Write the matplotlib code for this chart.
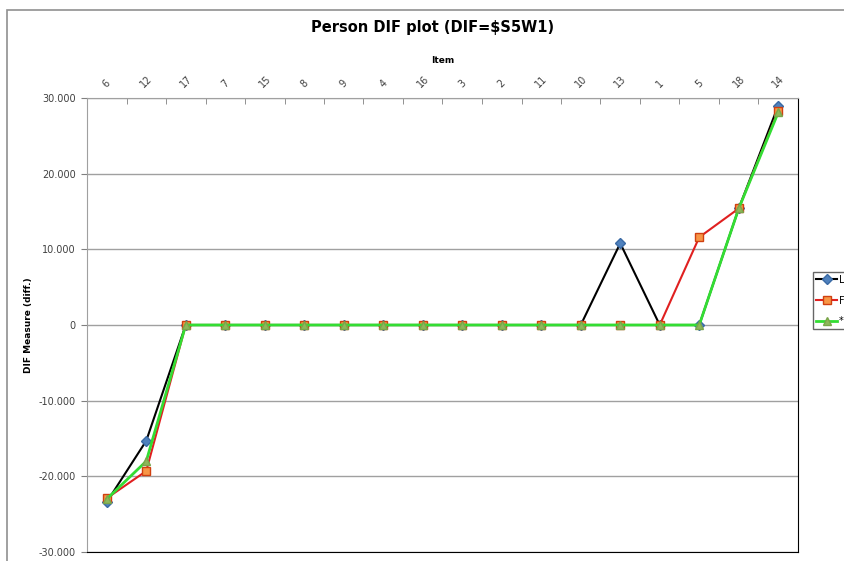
import numpy as np
import matplotlib.pyplot as plt
from matplotlib.ticker import FuncFormatter

items = ["6", "12", "17", "7", "15", "8", "9", "4", "16", "3", "2", "11",
         "10", "13", "1", "5", "18", "14"]
series_l = [-23.4, -15.3, 0, 0, 0, 0, 0, 0, 0, 0, 0, 0, 0, 10.8, 0, 0, 15.4, 29.0]
series_f = [-22.9, -19.3, 0, 0, 0, 0, 0, 0, 0, 0, 0, 0, 0, 0, 0, 11.6, 15.4, 28.3]
series_s = [-23.0, -18.0, 0, 0, 0, 0, 0, 0, 0, 0, 0, 0, 0, 0, 0, 0, 15.4, 28.1]
labels = ["L", "F", "*"]

fig = plt.figure(figsize=(8.45, 5.61), dpi=100)
ax = fig.add_axes([87 / 845, 1 - 552 / 561, (798 - 87) / 845, (552 - 98) / 561])

x = np.arange(len(items))
ax.plot(x, series_l, color="black", lw=1.5, marker="D", ms=5,
        mfc="#4F81BD", mec="#3A6AA5", label=labels[0], zorder=3)
ax.plot(x, series_f, color="#E02020", lw=1.5, marker="s", ms=6,
        mfc="#F79646", mec="#D04010", label=labels[1], zorder=4)
ax.plot(x, series_s, color="#33DD33", lw=2, marker="^", ms=6,
        mfc="#8DB85A", mec="#7AA54A", label=labels[2], zorder=5)

ax.set_xlim(-0.5, len(items) - 0.5)
ax.set_ylim(-30, 30)
ax.set_yticks(np.arange(-30, 31, 10))
ax.yaxis.set_major_formatter(FuncFormatter(lambda v, p: "0" if v == 0 else f"{v:.3f}"))
ax.tick_params(axis="y", labelsize=7, labelcolor="#404040", length=4, width=0.8,
               direction="out", pad=4, color="#808080")

ax.xaxis.tick_top()
ax.xaxis.set_label_position("top")
ax.set_xticks(x)
ax.set_xticklabels(items, rotation=45, ha="center", va="bottom", fontsize=7, color="#404040")
ax.set_xticks(np.arange(-0.5, len(items)), minor=True)
ax.tick_params(axis="x", which="major", length=0, pad=6)
ax.tick_params(axis="x", which="minor", length=4, color="#808080", direction="in", top=True, bottom=False)
ax.set_xlabel("Item", fontsize=6.5, fontweight="bold", labelpad=8)
ax.set_ylabel("DIF Measure (diff.)", fontsize=6.5, fontweight="bold", labelpad=4)

ax.grid(axis="y", color="#A0A0A0", lw=1)
ax.set_axisbelow(True)
ax.spines["left"].set_color("#A0A0A0")
ax.spines["top"].set_color("#A0A0A0")
ax.spines["right"].set_color("black")
ax.spines["bottom"].set_color("black")

fig.suptitle("Person DIF plot (DIF=$S5W1)", x=433 / 845, y=1 - 20 / 561,
             fontsize=10.5, fontweight="bold", va="top")

# legend sits at the right edge; its text is clipped there as in the source
leg = fig.legend(loc="upper left", bbox_to_anchor=(811 / 845, 1 - 270 / 561),
                 fontsize=7, frameon=True, fancybox=False, edgecolor="#404040",
                 handlelength=2.2, handletextpad=0.2, borderpad=0.3,
                 borderaxespad=0.2, labelspacing=1.1)
leg.get_frame().set_linewidth(1)

fig.patches.append(plt.Rectangle((7 / 845, -0.1), 2, 1 - 10 / 561 + 0.1,
                                 transform=fig.transFigure, fill=False,
                                 edgecolor="#909090", lw=1.2))

fig.savefig("out.png", dpi=100)
